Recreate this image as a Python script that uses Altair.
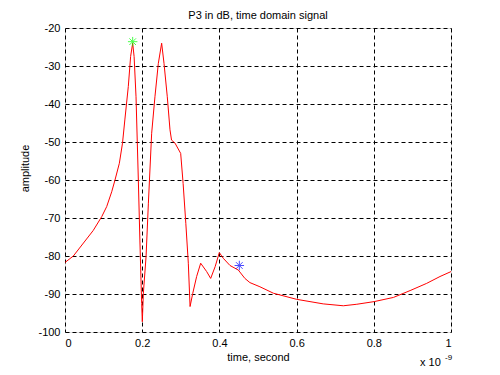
import altair as alt
import pandas as pd

# time in units of 1e-9 s
t_vals = [0.0, 0.0216, 0.073, 0.0954, 0.108, 0.121, 0.1295, 0.1408, 0.149, 0.155, 0.164, 0.170,
          0.1753, 0.179, 0.184, 0.190, 0.194, 0.1986, 0.2003, 0.203, 0.21, 0.216, 0.2245, 0.233,
          0.2418, 0.2504, 0.2565, 0.265, 0.272, 0.276, 0.285, 0.2997, 0.306, 0.313, 0.3195,
          0.324, 0.331, 0.341, 0.3515, 0.367, 0.3774, 0.389, 0.3998, 0.410, 0.4275, 0.449,
          0.466, 0.479, 0.505, 0.540, 0.600, 0.669, 0.721, 0.756, 0.801, 0.851, 0.894, 0.937,
          0.9715, 1.0]
amp_vals = [-81.7, -80.0, -73.3, -69.6, -67.0, -63.1, -60.0, -55.6, -50.3, -44.2, -35.4, -27.5,
            -24.0, -27.5, -38.1, -60.0, -75.8, -92.5, -97.3, -89.8, -80.2, -66.1, -47.7, -38.1,
            -29.3, -24.0, -29.3, -38.1, -46.8, -49.5, -50.3, -53.0, -60.9, -71.4, -81.9,
            -93.3, -89.8, -85.4, -81.9, -84.1, -85.9, -82.8, -79.1, -80.6, -82.5, -83.7,
            -85.9, -87.0, -88.1, -89.8, -91.4, -92.6, -93.1, -92.7, -92.0, -90.9, -89.1, -87.2,
            -85.4, -84.1]

marker_t = [0.1753, 0.4516]
marker_amp = [-23.6, -82.5]
marker_color = ["#00ff00", "#0000ff"]

x_ticks = [0, 0.2, 0.4, 0.6, 0.8, 1.0]
y_ticks = [-100, -90, -80, -70, -60, -50, -40, -30, -20]

line_df = pd.DataFrame({"t": t_vals, "amp": amp_vals})
mk_df = pd.DataFrame({"t": marker_t, "amp": marker_amp, "c": marker_color})

FONT = "Liberation Sans"

xscale = alt.Scale(domain=[0, 1], nice=False, zero=False)
yscale = alt.Scale(domain=[-100, -20], nice=False, zero=False)

xaxis = alt.Axis(values=x_ticks, format="~g", title="time, second", grid=True,
                 gridColor="black", gridDash=[4, 3], gridOpacity=1, gridWidth=1,
                 domain=False, ticks=False, labelPadding=5, titlePadding=3,
                 labelOverlap=False,
                 labelFont=FONT, labelFontSize=11, labelColor="black",
                 titleFont=FONT, titleFontSize=11, titleFontWeight="normal", titleColor="black")
yaxis = alt.Axis(values=y_ticks, labelExpr="'' + datum.value", title="amplitude", grid=True,
                 gridColor="black", gridDash=[4, 3], gridOpacity=1, gridWidth=1,
                 domain=False, ticks=False, labelPadding=5,
                 titleX=-40, titleY=140, titleAngle=270, titleAlign="center",
                 titleBaseline="middle",
                 labelOverlap=False,
                 labelFont=FONT, labelFontSize=11, labelColor="black",
                 titleFont=FONT, titleFontSize=11, titleFontWeight="normal", titleColor="black")

line = alt.Chart(line_df).mark_line(color="#ff0000", strokeWidth=1).encode(
    x=alt.X("t:Q", scale=xscale, axis=xaxis),
    y=alt.Y("amp:Q", scale=yscale, axis=yaxis),
)

star = "M-1,0L1,0M0,-1L0,1M-0.7,-0.7L0.7,0.7M-0.7,0.7L0.7,-0.7"
markers = alt.Chart(mk_df).mark_point(shape=star, size=90, strokeWidth=1, filled=False).encode(
    x=alt.X("t:Q", scale=xscale, axis=xaxis),
    y=alt.Y("amp:Q", scale=yscale, axis=yaxis),
    color=alt.Color("c:N", scale=None),
)

exp1 = alt.Chart(pd.DataFrame({"s": ["x 10"]})).mark_text(
    font=FONT, fontSize=11, align="left", baseline="middle", color="black"
).encode(x=alt.value(355), y=alt.value(335), text="s:N")
exp2 = alt.Chart(pd.DataFrame({"s": ["-9"]})).mark_text(
    font=FONT, fontSize=8, align="left", baseline="middle", color="black"
).encode(x=alt.value(380), y=alt.value(330), text="s:N")

chart = alt.layer(line, markers, exp1, exp2).properties(
    width=386, height=304,
    title=alt.TitleParams("P3 in dB, time domain signal", font=FONT, fontSize=11,
                          fontWeight="normal", color="black", offset=1, anchor="middle"),
    autosize=alt.AutoSizeParams(type="none"),
    padding={"left": 57, "top": 20, "right": 41, "bottom": 35},
).configure_view(stroke="black", strokeWidth=1).configure(background="white")

chart.save("out.html", embed_options={"renderer": "svg", "actions": False})
